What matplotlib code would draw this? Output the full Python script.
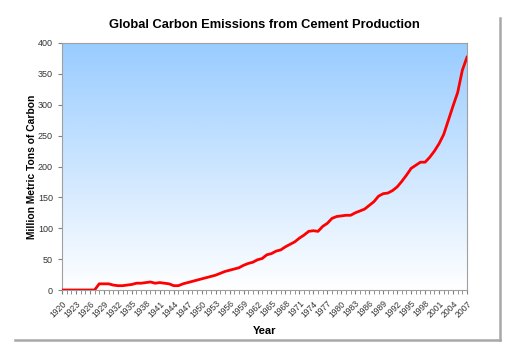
import numpy as np
import matplotlib.pyplot as plt
from matplotlib.lines import Line2D

plt.rcParams['font.family'] = ['Liberation Sans', 'DejaVu Sans']

years = list(range(1920, 2008))
emissions = [0, 0, 0, 0, 0, 0, 0, 0, 10, 10,
             10, 8, 7, 7, 8, 9, 11, 11, 12, 13,
             11, 12, 11, 10, 7, 7, 10, 12, 14, 16,
             18, 20, 22, 24, 27, 30, 32, 34, 36, 40,
             43, 45, 49, 51, 57, 59, 63, 65, 70, 74,
             78, 84, 89, 95, 96, 95, 103, 108, 116, 119,
             120, 121, 121, 125, 128, 131, 137, 143, 152, 156,
             157, 161, 167, 176, 186, 197, 202, 207, 207, 215,
             225, 237, 252, 275, 298, 320, 356, 377]
tick_years = list(range(1920, 2008, 3))

fig = plt.figure(figsize=(5.12, 3.5), dpi=100)
ax = fig.add_axes([62/512, 60/350, 405/512, 247/350])

# gradient background of the plot area
grad = np.linspace(0, 1, 256).reshape(-1, 1, 1)
top = np.array([0.60, 0.80, 1.0])
bot = np.array([1.0, 1.0, 1.0])
img = bot + (top - bot) * grad
ax.imshow(img, origin='lower', aspect='auto',
          extent=[1920, 2007, 0, 400], zorder=0)

ax.plot(years, emissions, color='#ff0000', lw=2, zorder=3)

ax.set_xlim(1920, 2007)
ax.set_ylim(0, 400)
ax.set_yticks(range(0, 401, 50))
ax.set_xticks(tick_years)
ax.set_xticklabels([str(y) for y in tick_years], rotation=45, ha='right',
                   rotation_mode='anchor', fontsize=6.2, color='#333333')
ax.set_xticks(years, minor=True)
ax.tick_params(axis='y', labelsize=6.5, labelcolor='#333333', length=3,
               color='#808080')
ax.tick_params(axis='x', which='both', length=3, color='#808080')
for s in ax.spines.values():
    s.set_color('#a0a0a0')
    s.set_linewidth(0.8)

ax.set_title('Global Carbon Emissions from Cement Production',
             fontsize=9.3, fontweight='bold', pad=11)
ax.set_ylabel('Million Metric Tons of Carbon', fontsize=7.4, fontweight='bold',
              labelpad=1)
ax.set_xlabel('Year', fontsize=8, fontweight='bold', labelpad=5)

# frame shadow on right and bottom
fig.add_artist(Line2D([500/512, 500/512], [1 - 18/350, 1 - 340/350],
                      color='#a8a8a8', lw=1.8, transform=fig.transFigure))
fig.add_artist(Line2D([15/512, 500/512], [1 - 340/350, 1 - 340/350],
                      color='#a8a8a8', lw=1.8, transform=fig.transFigure))

fig.savefig('out.png', dpi=100)
